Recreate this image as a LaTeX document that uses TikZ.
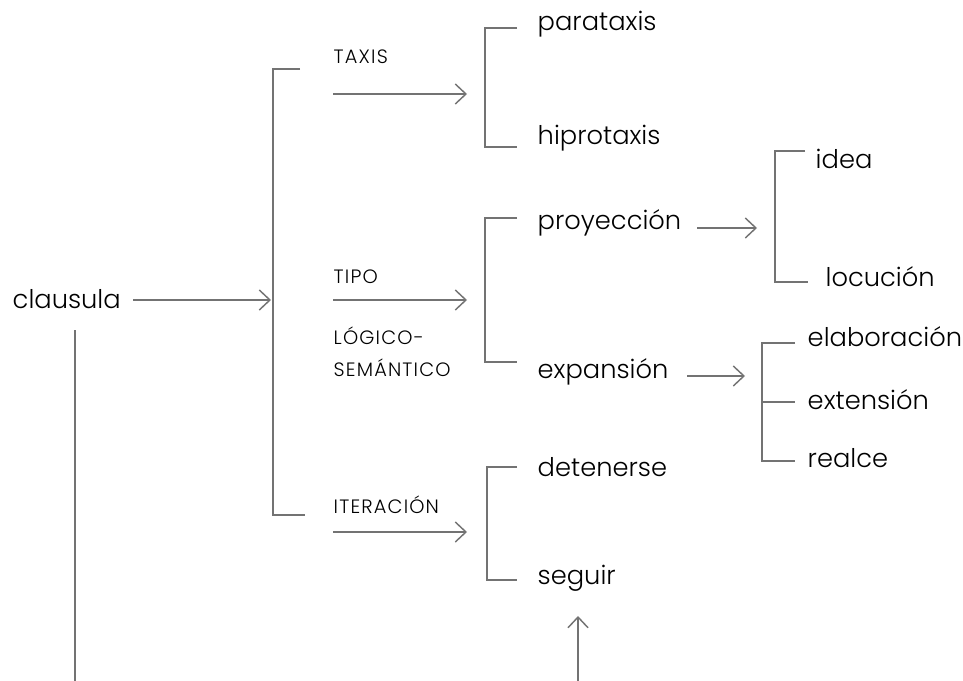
\documentclass[tikz,border=0pt]{standalone}
\usepackage{fontspec}
\setmainfont{Poppins}[UprightFont={* Light}]
\usetikzlibrary{arrows.meta}

\begin{document}
\begin{tikzpicture}[x=0.75pt,y=-0.75pt,
  line width=1.1pt,
  conn/.style={draw=black!55},
  arr/.style={conn,-{Straight Barb[length=8pt,width=15pt,line width=1.1pt]}},
  word/.style={anchor=base west,inner sep=0pt,font=\fontsize{19.3}{23}\selectfont},
  tag/.style={anchor=base west,inner sep=0pt,font=\fontsize{14.5}{17}\selectfont\addfontfeatures{LetterSpace=6}}]
  \useasboundingbox (0,0) rectangle (963,681);
  % left part
  \node[word] (clausula) at (12,308) {clausula};
  \coordinate (b1top) at (273,69);
  \coordinate (b1bot) at (273,515);
  \coordinate (b1in) at (271,300);
  \draw[arr] (133,300) -- (b1in);
  \draw[conn] (300,69) -- (b1top) -- (b1bot) -- (305,515);
  \draw[conn] (75,330) -- (75,681);
  % taxis
  \node[tag] (taxis) at (333,64) {TAXIS};
  \draw[arr] (333,94) -- (467,94);
  \node[word] (para) at (537,31) {parataxis};
  \node[word] (hipo) at (537,145) {hiprotaxis};
  \draw[conn] (517,28) -- (485,28) -- (485,147) -- (517,147);
  % tipo
  \node[tag] (tipo) at (333,283) {TIPO};
  \node[tag] (logico) at (333,344) {LÓGICO-};
  \node[tag] (seman) at (333,376) {SEMÁNTICO};
  \draw[arr] (333,300) -- (467,300);
  \node[word] (proy) at (537,229) {proyección};
  \node[word] (expa) at (537,378) {expansión};
  \draw[conn] (517,218) -- (485,218) -- (485,362) -- (517,362);
  \draw[arr] (697,228) -- (757,228);
  \node[word] (idea) at (815,168) {idea};
  \node[word] (locu) at (825,286) {locución};
  \draw[conn] (805,151) -- (775,151) -- (775,282) -- (808,282);
  \draw[arr] (687,376) -- (745,376);
  \node[word] (elab) at (807,346) {elaboración};
  \node[word] (exte) at (807,409) {extensión};
  \node[word] (real) at (807,467) {realce};
  \draw[conn] (795,343) -- (762,343) -- (762,461) -- (795,461);
  \draw[conn] (762,402) -- (795,402);
  % iteracion
  \node[tag] (iter) at (333,513) {ITERACIÓN};
  \draw[arr] (333,532) -- (467,532);
  \node[word] (dete) at (537,476) {detenerse};
  \node[word] (segu) at (537,584) {seguir};
  \draw[conn] (517,467) -- (487,467) -- (487,580) -- (517,580);
  \draw[arr] (578,681) -- (578,616);
\end{tikzpicture}
\end{document}
